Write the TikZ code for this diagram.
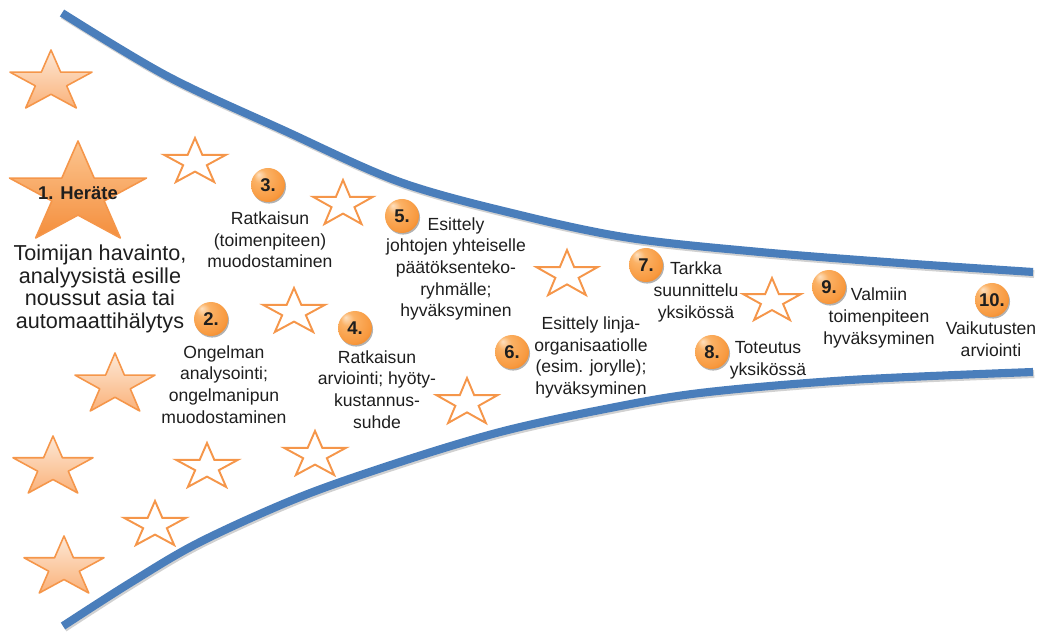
\documentclass[tikz,border=0pt]{standalone}
\usepackage{fontspec}
\setmainfont{Liberation Sans}
\usetikzlibrary{shadows}

\definecolor{curveblue}{HTML}{4A7EBB}
\definecolor{starline}{HTML}{F5964A}
\definecolor{peachtop}{HTML}{FDE8D6}
\definecolor{peachbot}{HTML}{FAB27A}
\definecolor{bigtop}{HTML}{FCC590}
\definecolor{bigbot}{HTML}{F48E3C}
\definecolor{orbA}{HTML}{FDE0C0}
\definecolor{orbB}{HTML}{FBB266}
\definecolor{orbC}{HTML}{F89A40}
\definecolor{orbD}{HTML}{E8760E}
\definecolor{inktext}{HTML}{1E1E1E}

% Orange ball shading with a highlight towards the upper left
\pgfdeclareradialshading{orb}{\pgfpoint{-14bp}{16bp}}{%
  color(0bp)=(orbA); color(10bp)=(orbB); color(28bp)=(orbC);
  color(42bp)=(orbD); color(50bp)=(orbD)}

% Five-pointed star fitted into a box: centre x, top y, width, height, style
\newcommand\fivestar[5]{%
  \draw[#5] plot[samples at={0,...,9}, variable=\k]
    ({#1 + (#3/1.902)*cos(90+36*\k)*(mod(\k,2)==0 ? 1 : 0.382)},
     {#2 + (#4/1.809)*(1 - sin(90+36*\k)*(mod(\k,2)==0 ? 1 : 0.382))}) -- cycle;}

\tikzset{
  blueline/.style={draw=curveblue, line width=4.6pt, line cap=butt},
  blueshadow/.style={draw=black, opacity=0.18, line width=4.6pt, line cap=butt},
  softstar/.style={draw=starline, line width=0.9pt, line join=round,
    top color=peachtop, bottom color=peachbot},
  bigstar/.style={draw=starline, line width=0.9pt, line join=round,
    top color=bigtop, bottom color=bigbot},
  hollowstar/.style={draw=starline, line width=1.1pt, line join=miter, fill=white},
  txt/.style={align=center, inner sep=0pt, text=inktext,
    font=\fontsize{10}{12.3}\selectfont},
  numball/.style={circle, inner sep=0pt, minimum size=0.68cm, shading=orb,
    text=inktext, font=\fontsize{10.5}{12}\selectfont\bfseries,
    drop shadow={shadow xshift=0.6pt, shadow yshift=-0.9pt, opacity=0.3, fill=black}},
}

\begin{document}
\begin{tikzpicture}[x=0.02cm, y=-0.02cm]
  \useasboundingbox (0,0) rectangle (1046,634);

  % funnel edges
  \draw[blueshadow, shift={(1.2,2)}] plot[smooth, tension=0.55] coordinates
    {(62,13) (167,76) (283,130) (400,182) (520,215) (630,238) (760,252) (900,263) (1033,272)};
  \draw[blueshadow, shift={(1.2,2)}] plot[smooth, tension=0.55] coordinates
    {(63,626) (130,583) (200,542) (300,497) (400,462) (500,432) (600,410) (700,393) (850,380) (1033,372)};
  \draw[blueline] plot[smooth, tension=0.55] coordinates
    {(62,13) (167,76) (283,130) (400,182) (520,215) (630,238) (760,252) (900,263) (1033,272)};
  \draw[blueline] plot[smooth, tension=0.55] coordinates
    {(63,626) (130,583) (200,542) (300,497) (400,462) (500,432) (600,410) (700,393) (850,380) (1033,372)};

  % filled stars
  \fivestar{51}{50}{82}{58}{softstar}
  \fivestar{78}{141}{137}{97}{bigstar}
  \fivestar{115}{353}{80}{58}{softstar}
  \fivestar{53}{436}{80}{57}{softstar}
  \fivestar{64}{536}{80}{57}{softstar}

  % outlined stars
  \fivestar{195}{138}{62}{44}{hollowstar}
  \fivestar{343}{180}{60}{44}{hollowstar}
  \fivestar{294}{288}{62}{44}{hollowstar}
  \fivestar{567}{250}{61}{45}{hollowstar}
  \fivestar{467}{378}{61}{45}{hollowstar}
  \fivestar{772}{278}{58}{42}{hollowstar}
  \fivestar{315}{431}{62}{44}{hollowstar}
  \fivestar{155}{501}{62}{44}{hollowstar}
  \fivestar{207}{443}{62}{44}{hollowstar}

  % step 1
  \node[txt, font=\fontsize{10.5}{12}\selectfont\bfseries] (h1) at (78,193) {1. Heräte};
  \node[txt, font=\fontsize{12.3}{12.8}\selectfont] (t1) at (100,289)
    {Toimijan havainto,\\analyysistä esille\\noussut asia tai\\automaattihälytys};

  % numbered steps
  \node[numball] (n2) at (211,319) {2.};
  \node[numball] (n3) at (268,185) {3.};
  \node[numball] (n4) at (355,328) {4.};
  \node[numball] (n5) at (402,216) {5.};
  \node[numball] (n6) at (512,352) {6.};
  \node[numball] (n7) at (646,265) {7.};
  \node[numball] (n8) at (712,352) {8.};
  \node[numball] (n9) at (829,287) {9.};
  \node[numball] (n10) at (992,300) {10.};

  \node[txt] (t2) at (224,384.5) {Ongelman\\analysointi;\\ongelmanipun\\muodostaminen};
  \node[txt] (t3) at (270,240) {Ratkaisun\\(toimenpiteen)\\muodostaminen};
  \node[txt] (t4) at (377,389.5) {Ratkaisun\\arviointi; hyöty-\\kustannus-\\suhde};
  \node[txt] (t5) at (456,269) {Esittely\\johtojen yhteiselle\\päätöksenteko-\\ryhmälle;\\hyväksyminen};
  \node[txt] (t6) at (591,357.5) {Esittely linja-\\organisaatiolle\\(esim. jorylle);\\hyväksyminen};
  \node[txt] (t7) at (696,292) {Tarkka\\suunnittelu\\yksikössä};
  \node[txt] (t8) at (768,360) {Toteutus\\yksikössä};
  \node[txt] (t9) at (879,318) {Valmiin\\toimenpiteen\\hyväksyminen};
  \node[txt] (t10) at (991,339.5) {Vaikutusten\\arviointi};
\end{tikzpicture}
\end{document}
